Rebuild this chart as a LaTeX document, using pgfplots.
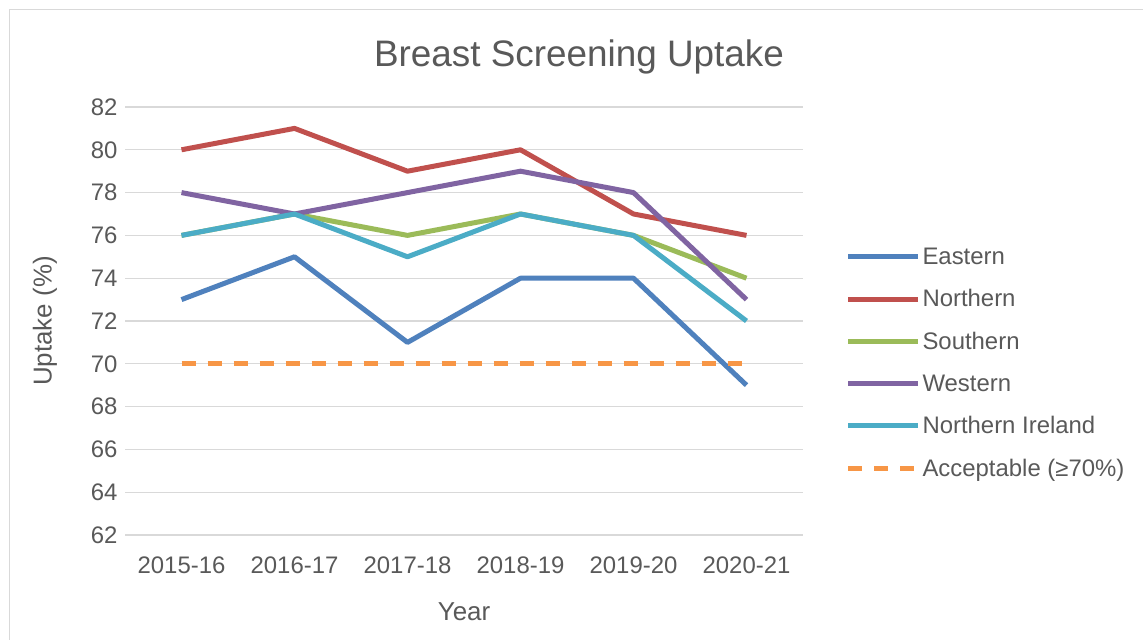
\documentclass[border=0pt]{standalone}
\usepackage{fontspec}
\setmainfont{Liberation Sans}
\usepackage{pgfplots}
\pgfplotsset{compat=1.18}
\definecolor{txt}{HTML}{595959}
\definecolor{gridc}{HTML}{D9D9D9}
\definecolor{cE}{HTML}{4F81BD}
\definecolor{cN}{HTML}{C0504D}
\definecolor{cS}{HTML}{9BBB59}
\definecolor{cW}{HTML}{8064A2}
\definecolor{cNI}{HTML}{4BACC6}
\definecolor{cA}{HTML}{F79646}
\begin{document}
\begin{tikzpicture}[x=1bp,y=1bp]
\path[use as bounding box] (0,0) rectangle (1143,640);
\fill[white] (0,0) rectangle (1143,640);
\draw[gridc, line width=1.5bp] (9.5,0) -- (9.5,630.5) -- (1143,630.5);
\node[text=txt, font=\fontsize{37}{44}\selectfont] at (579,583) {Breast Screening Uptake};
\begin{axis}[
  at={(125bp,105bp)}, anchor=south west,
  scale only axis, width=678bp, height=428bp,
  xmin=-0.5, xmax=5.5, ymin=62, ymax=82,
  ytick={62,64,...,82},
  xtick={0,1,2,3,4,5},
  xticklabels={2015-16,2016-17,2017-18,2018-19,2019-20,2020-21},
  axis line style={draw=none},
  major tick length=0pt,
  ymajorgrids,
  grid style={gridc, line width=1.2bp},
  /pgf/number format/assume math mode=true,
  tick label style={text=txt, font=\fontsize{24}{28}\selectfont},
  xticklabel style={yshift=-18bp},
  yticklabel style={xshift=-4bp},
  label style={text=txt, font=\fontsize{26}{30}\selectfont},
  xlabel={Year},
  ylabel={Uptake (\%)},
  xlabel style={at={(axis description cs:0.5,-0.18)}, anchor=center},
  ylabel style={at={(axis description cs:-0.118,0.5)}, anchor=center},
  legend style={at={(1.058,0.402)}, anchor=west, draw=none, fill=none,
    font=\fontsize{24}{28}\selectfont, text=txt, row sep=19.8bp},
  legend cell align=left,
  legend image code/.code={\draw[#1] (0bp,0bp) -- (70bp,0bp);},
  every axis plot/.append style={line width=5bp, mark=none, line join=round},
]
\addplot[cE] coordinates {(0,73) (1,75) (2,71) (3,74) (4,74) (5,69)};
\addlegendentry{Eastern}
\addplot[cN] coordinates {(0,80) (1,81) (2,79) (3,80) (4,77) (5,76)};
\addlegendentry{Northern}
\addplot[cS] coordinates {(0,76) (1,77) (2,76) (3,77) (4,76) (5,74)};
\addlegendentry{Southern}
\addplot[cW] coordinates {(0,78) (1,77) (2,78) (3,79) (4,78) (5,73)};
\addlegendentry{Western}
\addplot[cNI] coordinates {(0,76) (1,77) (2,75) (3,77) (4,76) (5,72)};
\addlegendentry{Northern Ireland}
\addplot[cA, dash pattern=on 14bp off 12bp] coordinates {(0,70) (1,70) (2,70) (3,70) (4,70) (5,70)};
\addlegendentry{Acceptable (≥70\%)}
\end{axis}
\end{tikzpicture}
\end{document}
